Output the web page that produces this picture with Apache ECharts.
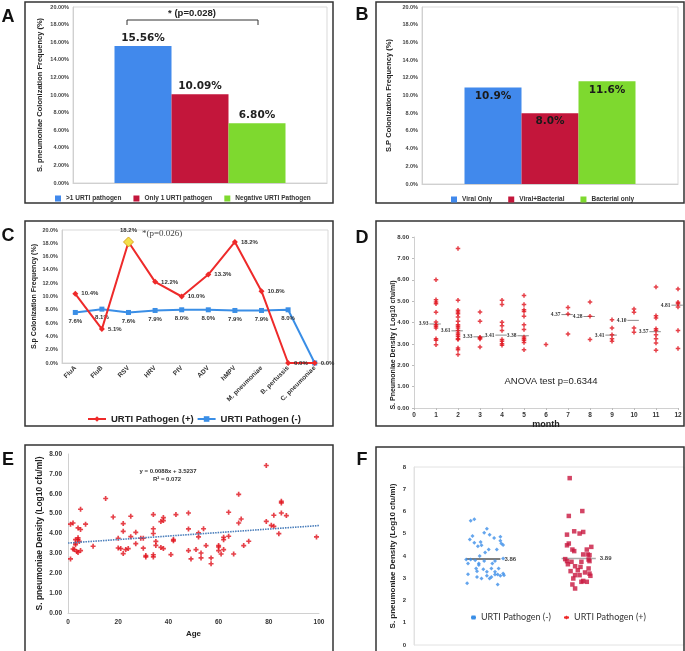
<!DOCTYPE html>
<html><head><meta charset="utf-8">
<script src="https://cdn.jsdelivr.net/npm/echarts@6/dist/echarts.min.js"></script>
<style>html,body{margin:0;padding:0;background:#fff}#c{width:685px;height:651px}</style>
</head><body><div id="c"></div>
<script>
// ---------- Panel A ----------
const aNames = ['>1 URTI pathogen', 'Only 1 URTI pathogen', 'Negative URTI Pathogen'];
const aValues = [15.56, 10.09, 6.80];
const aTicks = [0, 20, 2];
// ---------- Panel B ----------
const bNames = ['Viral Only', 'Viral+Bacterial', 'Bacterial only'];
const bValues = [10.9, 8.0, 11.6];
// ---------- Panel C ----------
const cCategories = ['FluA', 'FluB', 'RSV', 'HRV', 'PIV', 'ADV', 'hMPV', 'M. pneumoniae', 'B. pertussis', 'C. pneumoniae'];
const cPositive = [10.4, 5.1, 18.2, 12.2, 10.0, 13.3, 18.2, 10.8, 0.0, 0.0];
const cNegative = [7.6, 8.1, 7.6, 7.9, 8.0, 8.0, 7.9, 7.9, 8.0, 0.0];
const cSeriesNames = ['URTI Pathogen (+)', 'URTI Pathogen (-)'];
// ---------- Panel D ----------
const dMonth = [1,1,1,1,1,1,1,1,1,1,1,1,
  2,2,2,2,2,2,2,2,2,2,2,2,2,2,2,2,2,2,2,
  3,3,3,3,3,3,
  4,4,4,4,4,4,4,4,4,
  5,5,5,5,5,5,5,5,5,5,5,5,
  6,
  7,7,7,
  8,8,8,
  9,9,9,9,9,
  10,10,10,10,
  11,11,11,11,11,11,11,11,11,
  12,12,12,12,12,12];
const dDensity = [6.0,5.07,4.96,4.88,4.48,4.02,3.9,3.82,3.74,3.24,3.17,2.96,
  7.46,5.04,4.57,4.49,4.41,4.26,4.06,3.9,3.82,3.74,3.62,3.51,3.43,3.35,3.24,3.2,2.81,2.73,2.50,
  4.49,4.06,3.31,3.27,3.23,2.85,
  5.04,4.84,4.01,3.85,3.62,3.2,3.12,3.01,2.93,
  5.26,4.84,4.6,4.52,4.29,3.9,3.67,3.32,3.24,3.17,3.07,2.73,
  2.97,
  4.70,4.40,3.46,
  4.96,4.29,3.20,
  4.13,3.74,3.43,3.24,3.12,
  4.63,4.48,3.74,3.54,
  5.66,4.32,4.21,3.71,3.62,3.43,3.24,3.04,2.70,
  5.57,4.95,4.88,4.73,3.63,2.78];
const dMeanMonths = [1, 2, 3, 4, 5, 7, 8, 9, 10, 11, 12];
const dMeans = [3.93, 3.61, 3.33, 3.41, 3.38, 4.37, 4.28, 3.41, 4.10, 3.57, 4.81];
// ---------- Panel E ----------
const eAge = [1,1,2,2,2.5,3,3,3,3.5,4,4,4,4,4.5,5,5,5,7,10,15,18,20,20,21,22,22,22,23,24,25,25,27,27,29,30,30,31,31,
  34,34,34,34,34,35,35,37,38,38,37,38,41,42,42,43,48,48,48,49,51,52,52,53,53,54,55,57,57,60,60,60,61,62,62,62,
  64,64,66,68,68,69,70,72,79,79,81,82,82,84,85,85,85,87,99];
const eDensity = [2.72,4.47,4.53,3.22,3.19,3.44,3.52,3.69,3.1,3.78,3.7,4.28,3.05,3.6,4.2,5.22,3.14,4.47,3.36,5.76,4.83,3.76,3.27,3.24,4.5,4.11,2.99,3.19,3.24,3.84,4.87,4.06,3.49,3.76,3.76,3.26,2.89,2.82,
  4.95,4.24,4.0,2.93,2.82,3.6,3.4,4.6,4.8,4.65,3.3,3.24,2.94,3.7,3.63,4.95,5.03,4.23,3.14,2.72,3.19,4.03,3.83,3.02,2.77,4.24,3.39,2.77,2.48,3.39,3.32,3.14,2.97,3.81,3.69,3.19,
  5.07,3.86,2.97,5.97,4.53,4.73,3.39,3.61,7.42,4.61,4.41,4.36,4.92,3.99,5.62,5.54,5.03,4.9,3.83];
const eTrendAge = [0, 100];
const eTrendDensity = [3.52, 4.40];
// ---------- Panel F ----------
const fNegX = [0.63,0.67,0.81,0.78,0.84,0.65,0.96,0.62,0.89,0.96,0.67,0.74,0.97,0.99,0.71,0.75,0.83,0.92,0.79,0.73,0.58,0.63,0.99,0.68,0.78,0.90,0.60,0.72,0.87,0.72,0.94,0.69,0.86,0.70,0.90,0.81,0.77,0.60,0.70,0.93,0.99,1.00,0.96,0.90,0.75,0.84,0.86,0.81,0.59,0.93];
const fNegY = [5.58,5.65,5.23,5.05,4.96,4.90,4.86,4.74,4.81,4.68,4.60,4.63,4.56,4.50,4.44,4.48,4.29,4.29,4.16,4.00,3.84,3.84,3.89,3.81,3.78,3.77,3.66,3.66,3.66,3.59,3.44,3.44,3.44,3.32,3.29,3.29,3.41,3.18,3.06,3.17,3.21,3.14,3.11,3.17,2.99,2.99,3.06,3.11,2.77,2.72];
const fPosX = [1.73,1.72,1.87,1.70,1.78,1.84,1.88,1.70,1.72,1.76,1.78,1.92,1.97,1.88,1.93,1.95,1.68,1.94,1.95,1.70,1.71,1.75,1.86,1.79,1.85,1.74,1.82,1.90,1.79,1.84,1.94,1.96,1.77,1.95,1.86,1.88,1.92,1.76,1.79];
const fPosY = [7.50,5.80,6.02,4.96,5.11,5.01,5.08,4.48,4.56,4.29,4.22,4.29,4.41,4.07,4.07,4.04,3.86,3.84,3.77,3.77,3.63,3.74,3.74,3.54,3.51,3.32,3.36,3.26,3.14,3.14,3.44,3.11,2.99,3.21,2.84,2.88,2.84,2.72,2.54];
const fNames = ['URTI Pathogen (-)', 'URTI Pathogen (+)'];
const fMeans = [3.86, 3.89];
const fGroupCenters = [0.77, 1.83];

// ---------- styling ----------
const barColors = ['#4189EC', '#C3163B', '#7ED92F'];
const SANS = 'Liberation Sans';
const plusPath = 'path://M2,0H4V2H6V4H4V6H2V4H0V2H2Z';
const tinyLabel = { fontSize: 5.5, fontWeight: 'bold', color: '#444', fontFamily: SANS };
const lightAxis = { show: true, lineStyle: { color: '#d0d0d0', width: 1 } };

function valueY(gi, min, max, interval, fmt, name, gap, nameSize, extra) {
  return Object.assign({
    type: 'value', gridIndex: gi, min: min, max: max, interval: interval,
    axisLine: lightAxis, axisTick: { show: false }, splitLine: { show: false },
    axisLabel: Object.assign({}, tinyLabel, { formatter: fmt, margin: 4 }),
    name: name, nameLocation: 'middle', nameGap: gap,
    nameTextStyle: { fontSize: nameSize, fontWeight: 'bold', color: '#222', fontFamily: SANS }
  }, extra || {});
}

const grids = [
  { left: 73, top: 7, width: 254, height: 176, show: true, borderColor: '#d9d9d9', borderWidth: 1 },
  { left: 422, top: 7, width: 256, height: 177, show: true, borderColor: '#d9d9d9', borderWidth: 1 },
  { left: 62, top: 230, width: 266, height: 133, show: true, borderColor: '#d9d9d9', borderWidth: 1 },
  { left: 414, top: 237, width: 264, height: 171 },
  { left: 68, top: 454, width: 251, height: 159 },
  { left: 414, top: 467, width: 270, height: 178, show: true, borderColor: '#e2e2e2', borderWidth: 1 }
];

const xAxes = [
  { type: 'category', gridIndex: 0, data: [''], axisLine: lightAxis, axisTick: { show: false }, axisLabel: { show: false } },
  { type: 'category', gridIndex: 1, data: [''], axisLine: lightAxis, axisTick: { show: false }, axisLabel: { show: false } },
  { type: 'category', gridIndex: 2, data: cCategories, axisLine: lightAxis, axisTick: { show: false },
    axisLabel: { rotate: 45, fontSize: 6.5, fontWeight: 'bold', color: '#333', fontFamily: SANS, margin: 4, interval: 0 } },
  { type: 'value', gridIndex: 3, min: 0, max: 12, interval: 1, axisLine: lightAxis,
    axisTick: { show: true, length: 2, lineStyle: { color: '#bbb' } }, splitLine: { show: false },
    axisLabel: { fontSize: 6.5, fontWeight: 'bold', color: '#333', fontFamily: SANS, margin: 4 },
    name: 'month', nameLocation: 'middle', nameGap: 5,
    nameTextStyle: { fontSize: 9, fontWeight: 'bold', color: '#222', fontFamily: SANS } },
  { type: 'value', gridIndex: 4, min: 0, max: 100, interval: 20, axisLine: lightAxis,
    axisTick: { show: false }, splitLine: { show: false },
    axisLabel: { fontSize: 6.5, fontWeight: 'bold', color: '#333', fontFamily: SANS, margin: 6 },
    name: 'Age', nameLocation: 'middle', nameGap: 17,
    nameTextStyle: { fontSize: 8, fontWeight: 'bold', color: '#222', fontFamily: SANS } },
  { type: 'value', gridIndex: 5, min: 0, max: 3, show: false }
];

const yAxes = [
  valueY(0, aTicks[0], aTicks[1], aTicks[2], v => v.toFixed(2) + '%', 'S. pneumoniae Colonization Frequency (%)', 29, 7.5),
  valueY(1, 0, 20, 2, v => v.toFixed(1) + '%', 'S.P Colonization Frequency (%)', 29, 7.5),
  valueY(2, 0, 20, 2, v => v.toFixed(1) + '%', 'S.p Colonization Frequency (%)', 24, 7),
  valueY(3, 0, 8, 1, v => v.toFixed(2), '', 20, 7,
    { axisTick: { show: true, length: 2, lineStyle: { color: '#bbb' } },
      axisLabel: Object.assign({}, tinyLabel, { fontSize: 6, color: '#333', formatter: v => v.toFixed(2), margin: 5 }) }),
  valueY(4, 0, 8, 1, v => v.toFixed(2), 'S. pneumoniae Density (Log10 cfu/ml)', 24, 8.5,
    { axisLabel: Object.assign({}, tinyLabel, { fontSize: 6.5, color: '#333', formatter: v => v.toFixed(2), margin: 6 }) }),
  valueY(5, 0, 8, 1, v => String(v), 'S. pneumoniae Density (Log10 cfu/ml)', 17, 8,
    { axisLine: { show: true, lineStyle: { color: '#e2e2e2' } },
      axisLabel: Object.assign({}, tinyLabel, { fontSize: 6, color: '#333', formatter: v => String(v), margin: 8 }) })
];

const series = [];
aNames.forEach((n, i) => series.push({
  type: 'bar', name: n, xAxisIndex: 0, yAxisIndex: 0, data: [aValues[i]],
  barWidth: 57, barGap: '0%', itemStyle: { color: barColors[i] },
  label: { show: true, position: 'top', distance: 2, formatter: p => p.value.toFixed(2) + '%',
    fontSize: 10.5, fontWeight: 'bold', fontFamily: 'DejaVu Sans', color: '#222' }
}));
bNames.forEach((n, i) => series.push({
  type: 'bar', name: n, xAxisIndex: 1, yAxisIndex: 1, data: [bValues[i]],
  barWidth: 57, barGap: '0%', itemStyle: { color: barColors[i] },
  label: { show: true, position: 'insideTop', distance: 3, formatter: p => p.value.toFixed(1) + '%',
    fontSize: 10.5, fontWeight: 'bold', fontFamily: 'DejaVu Sans', color: '#1a1a1a' }
}));
const cLabelStyle = { fontSize: 6, fontWeight: 'bold', color: '#333', fontFamily: SANS };
const cHighlight = 'RSV';
series.push({
  type: 'line', name: cSeriesNames[0], xAxisIndex: 2, yAxisIndex: 2,
  symbol: 'diamond', symbolSize: 6, itemStyle: { color: '#EE2A2A' }, lineStyle: { color: '#EE2A2A', width: 2 },
  label: Object.assign({ show: true, position: 'right', distance: 3, formatter: p => p.value.toFixed(1) + '%' }, cLabelStyle),
  data: cPositive.map((v, i) => cCategories[i] === cHighlight
    ? { value: v, symbolSize: 10, itemStyle: { color: '#F3E04A', borderColor: '#D9A520', borderWidth: 1 }, label: { position: 'top', distance: 3 } }
    : { value: v }),
  z: 3
});
series.push({
  type: 'line', name: cSeriesNames[1], xAxisIndex: 2, yAxisIndex: 2,
  symbol: 'rect', symbolSize: 5, itemStyle: { color: '#3A8EE6' }, lineStyle: { color: '#3A8EE6', width: 2 },
  label: Object.assign({ show: true, position: 'bottom', distance: 3, formatter: p => p.value.toFixed(1) + '%' }, cLabelStyle),
  data: cNegative.map((v, i) => i === cNegative.length - 1 ? { value: v, label: { show: false } } : { value: v }),
  z: 2
});
series.push({
  type: 'scatter', name: 'D density', xAxisIndex: 3, yAxisIndex: 3,
  symbol: plusPath, symbolSize: 4.5, itemStyle: { color: '#E0121B' },
  data: dMonth.map((m, i) => [m, dDensity[i]])
});
series.push({
  type: 'custom', name: 'D means', xAxisIndex: 3, yAxisIndex: 3,
  data: dMeanMonths.map((m, i) => [m, dMeans[i]]),
  encode: { x: 0, y: 1 },
  renderItem: function (params, api) {
    const m = api.value(0), v = api.value(1);
    const p1 = api.coord([m - 0.3, v]), p2 = api.coord([m + 0.22, v]);
    return { type: 'group', children: [
      { type: 'line', shape: { x1: p1[0], y1: p1[1], x2: p2[0], y2: p2[1] }, style: { stroke: '#8a8a8a', lineWidth: 1 } },
      { type: 'text', x: p1[0] - 1, y: p1[1], style: { text: v.toFixed(2), align: 'right', verticalAlign: 'middle',
        textAlign: 'right', textVerticalAlign: 'middle', font: 'bold 5.5px "Liberation Serif"', fill: '#333' } }
    ] };
  }
});
series.push({
  type: 'scatter', name: 'E density', xAxisIndex: 4, yAxisIndex: 4,
  symbol: plusPath, symbolSize: 5, itemStyle: { color: '#E0121B' },
  data: eAge.map((a, i) => [a, eDensity[i]])
});
series.push({
  type: 'line', name: 'E trend', xAxisIndex: 4, yAxisIndex: 4, symbol: 'none',
  lineStyle: { color: '#4A7EBB', width: 1.6, type: [1.5, 1] },
  data: eTrendAge.map((a, i) => [a, eTrendDensity[i]])
});
series.push({
  type: 'scatter', name: fNames[0], xAxisIndex: 5, yAxisIndex: 5,
  symbol: 'diamond', symbolSize: 4, itemStyle: { color: '#3D8EE8' },
  data: fNegX.map((x, i) => [x, fNegY[i]])
});
series.push({
  type: 'scatter', name: fNames[1], xAxisIndex: 5, yAxisIndex: 5,
  symbol: 'rect', symbolSize: 4.5, itemStyle: { color: '#C8163E' },
  data: fPosX.map((x, i) => [x, fPosY[i]])
});
const fMeanColors = ['#555', '#aaa'];
series.push({
  type: 'custom', name: 'F means', xAxisIndex: 5, yAxisIndex: 5,
  data: fGroupCenters.map((c, i) => [c, fMeans[i], i]),
  encode: { x: 0, y: 1 },
  renderItem: function (params, api) {
    const c = api.value(0), v = api.value(1), gi = api.value(2);
    const p1 = api.coord([c - 0.19, v]), p2 = api.coord([c + 0.19, v]);
    return { type: 'group', children: [
      { type: 'line', shape: { x1: p1[0], y1: p1[1], x2: p2[0], y2: p2[1] }, style: { stroke: fMeanColors[gi], lineWidth: 1.5 } },
      { type: 'text', x: p2[0] + 4, y: p2[1], style: { text: v.toFixed(2), align: 'left', verticalAlign: 'middle',
        textAlign: 'left', textVerticalAlign: 'middle', font: 'bold 6px "Liberation Sans"', fill: '#444' } }
    ] };
  }
});

const legendText = { fontSize: 6.5, fontWeight: 'bold', color: '#333', fontFamily: SANS };
const legends = [
  { data: aNames, left: 50, top: 190, icon: 'rect', itemWidth: 6, itemHeight: 6, itemGap: 12, textStyle: legendText },
  { data: bNames, left: 446, top: 191, icon: 'rect', itemWidth: 6, itemHeight: 6, itemGap: 16, textStyle: legendText },
  { data: cSeriesNames, left: 82, top: 409, itemWidth: 18, itemHeight: 7, itemGap: 3,
    textStyle: { fontSize: 9.5, fontWeight: 'bold', color: '#222', fontFamily: SANS } },
  { data: fNames, left: 465, top: 608, itemWidth: 5, itemHeight: 5, itemGap: 12,
    textStyle: { fontSize: 9, color: '#333', fontFamily: 'Lato' } }
];

const border = (x, y, w, h) => ({ type: 'rect', shape: { x: x, y: y, width: w, height: h },
  style: { fill: 'none', stroke: '#333', lineWidth: 1.5 }, silent: true });
const letter = (t, x, y) => ({ type: 'text', x: x, y: y, style: { text: t, font: 'bold 18px "Liberation Sans"', fill: '#111',
  align: 'center', verticalAlign: 'middle', textAlign: 'center', textVerticalAlign: 'middle' } });
const txt = (t, x, y, font, fill, extra) => ({ type: 'text', x: x, y: y, style: Object.assign({ text: t, font: font, fill: fill || '#222',
  align: 'center', verticalAlign: 'middle', textAlign: 'center', textVerticalAlign: 'middle' }, extra || {}) });

const graphics = [
  border(25, 2, 308, 201), border(376, 2, 308, 201), border(25, 221, 308, 205), border(376, 221, 308, 205),
  border(25, 445, 308, 220), border(376, 447, 308, 220),
  letter('A', 8, 17), letter('B', 362, 15), letter('C', 8, 236), letter('D', 362, 238), letter('E', 8, 460), letter('F', 362, 460),
  { type: 'polyline', shape: { points: [[127, 25], [127, 20], [258, 20], [258, 25]] }, style: { stroke: '#333', lineWidth: 1, fill: 'none' } },
  txt('* (p=0.028)', 192, 13, 'bold 9.5px "Liberation Sans"', '#222'),
  txt('*(p=0.026)', 142, 234, '9px "Liberation Serif"', '#444', { align: 'left', textAlign: 'left' }),
  txt('ANOVA test p=0.6344', 551, 381, '9.5px "Liberation Sans"', '#222'),
  txt('y = 0.0088x + 3.5237', 168, 471, 'bold 6px "Liberation Sans"', '#333'),
  txt('R² = 0.072', 167, 479, 'bold 6px "Liberation Sans"', '#333'),
  Object.assign(txt('S. Pneumoniae Density ( Log10 cfu/ml)', 393, 345, 'bold 7px "Liberation Sans"', '#222'), { rotation: Math.PI / 2 })
];

const chart = echarts.init(document.getElementById('c'), null, { renderer: 'canvas' });
chart.setOption({
  animation: false,
  backgroundColor: '#fff',
  textStyle: { fontFamily: SANS },
  grid: grids, xAxis: xAxes, yAxis: yAxes, series: series, legend: legends, graphic: graphics
});
</script></body></html>
